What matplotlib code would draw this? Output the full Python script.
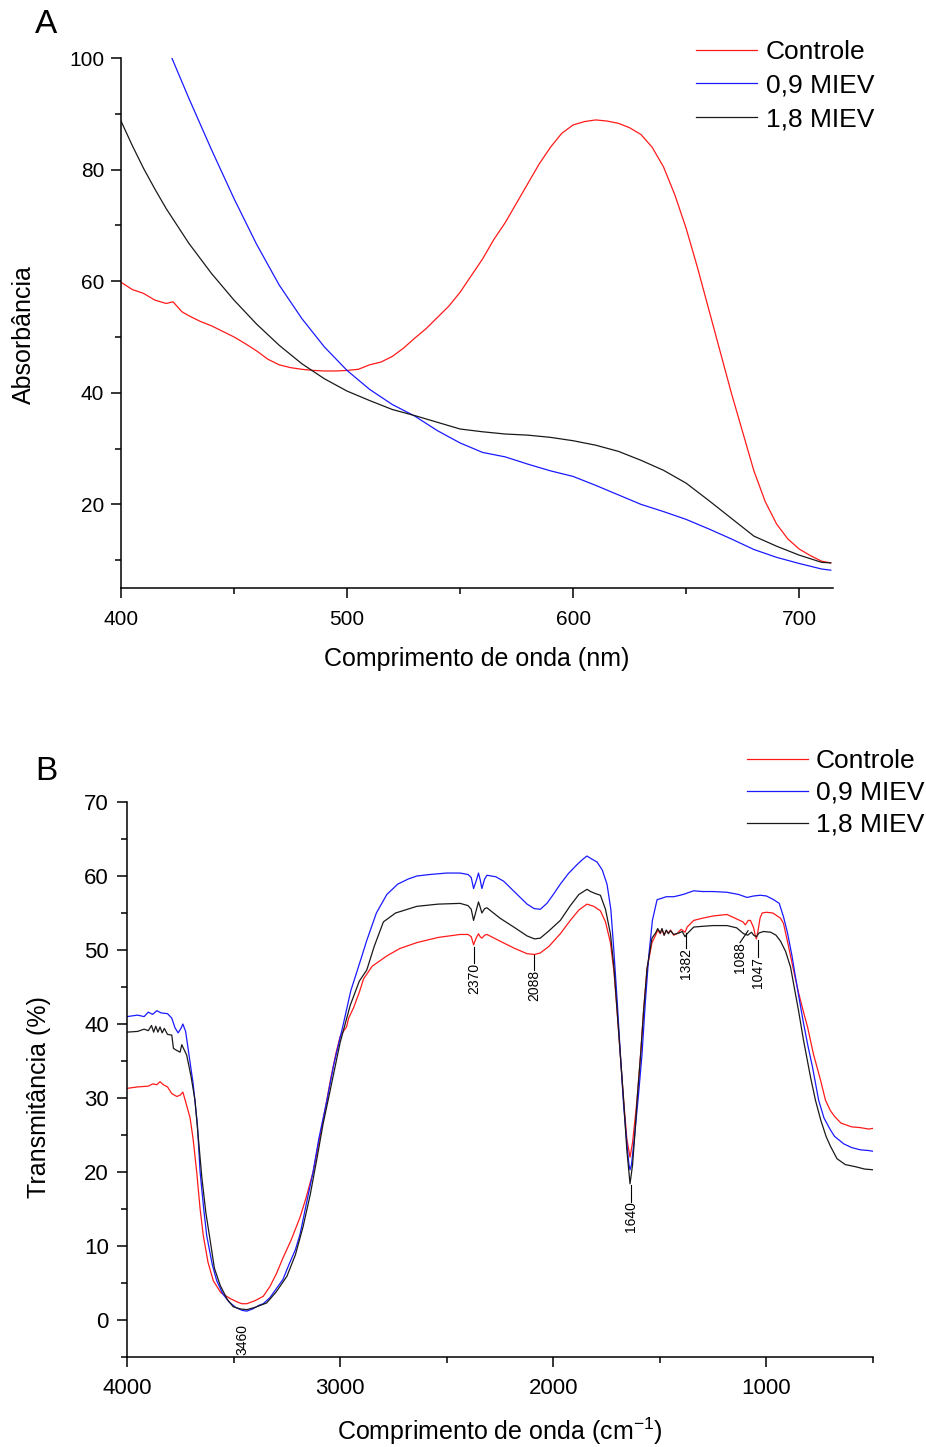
import matplotlib
matplotlib.use("Agg")
import matplotlib.pyplot as plt
from matplotlib.ticker import MultipleLocator

plt.rcParams['font.family'] = ['Liberation Sans', 'DejaVu Sans']
plt.rcParams['mathtext.fontset'] = 'custom'
plt.rcParams['mathtext.rm'] = 'Liberation Sans'
plt.rcParams['mathtext.it'] = 'Liberation Sans'

# ---- panel A: UV-Vis ----
wl_ctrl = [400, 405, 410, 415, 420, 423, 427, 430, 435, 440, 445, 450, 455, 460, 465,
           470, 475, 480, 485, 490, 495, 500, 505, 510, 515, 520, 525, 530, 535, 540,
           545, 550, 555, 560, 565, 570, 575, 580, 585, 590, 595, 600, 605, 610, 615,
           620, 625, 630, 635, 640, 645, 650, 655, 660, 665, 670, 675, 680, 685, 690,
           695, 700, 705, 710, 714]
abs_ctrl = [59.8, 58.5, 57.8, 56.6, 56.0, 56.3, 54.5, 53.8, 52.8, 52.0, 51.0, 50.0, 48.8, 47.5, 46.0,
            45.0, 44.5, 44.2, 44.0, 43.9, 43.9, 44.0, 44.2, 45.0, 45.5, 46.5, 48.0, 49.8, 51.5, 53.5,
            55.5, 58.0, 61.0, 64.0, 67.5, 70.5, 74.0, 77.5, 81.0, 84.0, 86.5, 88.0, 88.6, 88.9, 88.7,
            88.3, 87.5, 86.3, 84.0, 80.5, 75.5, 69.5, 62.5, 55.0, 47.5, 40.0, 33.0, 26.0, 20.5, 16.5,
            13.8, 12.0, 10.8, 9.8, 9.5]

wl_09 = [422.5, 430, 440, 450, 460, 470, 480, 490, 500, 510, 520, 530, 540, 550,
         560, 565, 570, 580, 590, 600, 610, 620, 630, 640, 650, 660, 670, 680, 690, 700,
         710, 714]
abs_09 = [100, 92.8, 83.6, 74.8, 66.6, 59.3, 53.3, 48.2, 44.0, 40.6, 37.9, 35.8, 33.2, 31.0,
          29.3, 28.9, 28.5, 27.2, 26.0, 25.0, 23.4, 21.7, 20.0, 18.7, 17.3, 15.6, 13.8, 11.9, 10.5, 9.4,
          8.4, 8.2]

wl_18 = [400, 405, 410, 415, 420, 430, 440, 450, 460, 470, 480, 490, 500, 510, 520, 530,
         540, 550, 560, 570, 580, 590, 600, 610, 620, 630, 640, 650, 660, 670, 680,
         690, 700, 710, 714]
abs_18 = [88.7, 84.3, 80.2, 76.5, 73.0, 66.8, 61.4, 56.6, 52.3, 48.5, 45.2, 42.5, 40.3, 38.6, 37.0, 35.9,
          34.7, 33.5, 33.0, 32.6, 32.4, 32.0, 31.4, 30.6, 29.5, 27.9, 26.1, 23.8, 20.7, 17.5, 14.3,
          12.5, 10.9, 9.6, 9.5]

# ---- panel B: FTIR ----
wn_ctrl = [4000, 3950, 3900, 3880, 3860, 3845, 3830, 3810, 3790, 3766, 3750, 3738, 3725, 3704, 3690,
           3673, 3657, 3642, 3620, 3595, 3560, 3516, 3480, 3460, 3438, 3400, 3361, 3330, 3300, 3268,
           3230, 3188, 3160, 3127, 3100, 3070, 3045, 3020, 3000, 2985, 2970, 2960, 2937, 2910, 2890, 2850,
           2781, 2720, 2640, 2540, 2437, 2400, 2385, 2374, 2362, 2351, 2343, 2335, 2322, 2311, 2250,
           2180, 2123, 2088, 2061, 2020, 1967, 1920, 1880, 1842, 1810, 1779, 1755, 1732, 1715, 1701,
           1685, 1670, 1655, 1640, 1628, 1615, 1607, 1590, 1576, 1560, 1537, 1520, 1510, 1498, 1490,
           1480, 1470, 1460, 1450, 1435, 1420, 1400, 1382, 1372, 1341, 1300, 1250, 1185, 1140, 1110,
           1099, 1085, 1075, 1060, 1052, 1047, 1040, 1030, 1020, 1000, 970, 934, 920, 900, 873,
           850, 825, 807, 780, 746, 723, 700, 680, 650, 600, 560, 520, 500]
tr_ctrl = [31.3, 31.5, 31.6, 31.9, 31.8, 32.2, 31.8, 31.5, 30.6, 30.2, 30.4, 30.8, 29.5, 27.3, 24.5,
           20.0, 15.0, 11.4, 7.8, 5.3, 3.7, 2.9, 2.4, 2.2, 2.2, 2.6, 3.2, 4.5, 6.2, 8.4,
           10.8, 13.9, 16.5, 20.0, 24.0, 28.5, 32.5, 36.0, 38.3, 39.0, 39.6, 40.8, 42.2, 44.3, 46.1, 47.8,
           49.2, 50.2, 51.0, 51.7, 52.1, 52.1, 51.8, 50.7, 51.6, 52.2, 51.8, 51.6, 52.0, 52.1, 51.2,
           50.2, 49.5, 49.4, 49.6, 50.5, 52.2, 54.0, 55.4, 56.2, 55.9, 55.3, 53.8, 51.0, 47.0, 41.9,
           35.5, 29.7, 24.5, 22.0, 24.0, 27.5, 29.7, 36.0, 41.9, 47.5, 51.0, 52.0, 52.7, 52.2, 52.8,
           52.0, 52.6, 52.3, 52.7, 52.0, 52.2, 52.8, 52.4, 53.1, 54.0, 54.3, 54.6, 54.8, 54.2, 53.8,
           53.4, 54.0, 54.0, 53.0, 51.9, 51.5, 52.5, 54.3, 55.0, 55.1, 55.0, 54.3, 53.6, 51.0, 47.3,
           44.3, 41.5, 39.6, 36.0, 32.4, 29.7, 28.3, 27.5, 26.6, 26.1, 26.0, 25.8, 25.9]

wn_09 = [4000, 3950, 3920, 3900, 3880, 3860, 3840, 3810, 3790, 3775, 3760, 3745, 3738, 3725, 3710,
         3690, 3670, 3657, 3640, 3626, 3600, 3579, 3550, 3520, 3490, 3460, 3438, 3410, 3380, 3361,
         3330, 3300, 3268, 3240, 3210, 3188, 3160, 3127, 3100, 3062, 3030, 2985, 2950, 2900, 2875,
         2830, 2781, 2730, 2680, 2640, 2580, 2500, 2437, 2400, 2385, 2374, 2360, 2351, 2343, 2335,
         2322, 2311, 2270, 2233, 2180, 2123, 2090, 2061, 2030, 2000, 1967, 1930, 1890, 1860, 1842,
         1820, 1795, 1770, 1748, 1730, 1717, 1700, 1685, 1670, 1654, 1645, 1640, 1633, 1620, 1600,
         1584, 1568, 1552, 1535, 1513, 1490, 1470, 1435, 1405, 1380, 1372, 1341, 1300, 1250, 1185,
         1130, 1091, 1060, 1028, 1000, 966, 940, 920, 901, 880, 864, 845, 826, 805, 784,
         755, 730, 700, 680, 637, 600, 560, 520, 500]
tr_09 = [41.0, 41.2, 41.0, 41.6, 41.3, 41.8, 41.5, 41.4, 40.8, 39.5, 38.8, 39.5, 40.0, 39.0, 36.0,
         32.0, 26.5, 20.0, 15.0, 11.4, 7.5, 5.3, 3.5, 2.4, 1.7, 1.3, 1.2, 1.5, 2.0, 2.2,
         3.0, 4.2, 5.5, 7.5, 9.5, 11.6, 15.5, 20.0, 24.5, 29.7, 34.5, 40.0, 44.5, 49.0, 51.3,
         55.0, 57.5, 58.9, 59.6, 60.0, 60.2, 60.4, 60.4, 60.2, 59.8, 58.3, 59.5, 60.4, 59.5, 58.3,
         59.6, 60.1, 59.9, 59.3, 57.8, 56.2, 55.6, 55.5, 56.3, 57.5, 58.9, 60.3, 61.5, 62.3, 62.7,
         62.3, 61.9, 60.8, 58.9, 55.5, 50.4, 43.0, 35.8, 29.0, 23.6, 21.0, 20.3, 21.0, 24.5, 30.5,
         35.8, 43.0, 49.2, 54.0, 56.8, 57.0, 57.2, 57.2, 57.4, 57.6, 57.7, 58.0, 57.9, 57.9, 57.8,
         57.5, 57.1, 57.3, 57.4, 57.3, 56.8, 56.3, 54.5, 52.3, 49.2, 46.4, 43.2, 40.1, 37.0, 34.2,
         29.7, 27.3, 25.7, 24.8, 23.8, 23.3, 23.0, 22.9, 22.8]

wn_18 = [4000, 3950, 3920, 3900, 3885, 3875, 3865, 3855, 3845, 3835, 3825, 3810, 3790, 3782, 3765,
         3751, 3743, 3720, 3700, 3681, 3665, 3649, 3630, 3610, 3590, 3563, 3530, 3502, 3470, 3438,
         3400, 3345, 3300, 3250, 3210, 3174, 3140, 3109, 3080, 3047, 3000, 2953, 2910, 2875, 2840,
         2797, 2740, 2640, 2540, 2437, 2400, 2385, 2374, 2362, 2351, 2343, 2335, 2322, 2311, 2250,
         2180, 2123, 2088, 2061, 2020, 1967, 1920, 1880, 1842, 1825, 1800, 1779, 1755, 1732, 1715,
         1701, 1685, 1670, 1655, 1640, 1628, 1615, 1607, 1590, 1576, 1560, 1537, 1520, 1510, 1498,
         1490, 1480, 1470, 1460, 1450, 1435, 1410, 1395, 1382, 1372, 1341, 1300, 1250, 1185, 1140,
         1107, 1088, 1070, 1060, 1047, 1035, 1013, 980, 955, 934, 910, 887, 870, 850, 826,
         793, 770, 745, 720, 700, 669, 630, 580, 540, 500]
tr_18 = [38.9, 39.0, 39.3, 39.1, 39.8, 38.9, 39.7, 38.9, 39.6, 38.8, 39.4, 38.6, 38.5, 36.7, 36.4,
         36.2, 37.2, 35.8, 33.0, 29.7, 24.5, 19.3, 14.5, 10.8, 7.0, 4.7, 2.8, 1.8, 1.5, 1.4,
         1.7, 2.3, 3.8, 5.9, 8.8, 12.6, 17.0, 21.8, 26.5, 31.0, 37.5, 42.5, 45.8, 47.3, 50.5,
         53.8, 55.0, 55.9, 56.2, 56.3, 56.0, 55.5, 54.0, 55.3, 56.5, 55.8, 55.0, 55.6, 55.7, 54.3,
         53.0, 51.9, 51.5, 51.6, 52.6, 54.0, 56.0, 57.5, 58.2, 57.9, 57.6, 57.4, 55.5, 52.2, 47.5,
         41.9, 35.5, 29.7, 23.0, 18.4, 21.0, 26.0, 29.7, 36.0, 41.9, 47.5, 51.6, 52.3, 52.9, 52.3,
         52.9, 52.0, 52.7, 52.2, 52.6, 52.1, 52.3, 52.5, 51.8, 52.2, 53.1, 53.2, 53.3, 53.3, 53.0,
         52.2, 52.0, 52.4, 52.0, 51.8, 52.3, 52.5, 52.4, 52.0, 51.2, 49.8, 47.7, 45.0, 41.9, 37.8,
         32.8, 29.7, 27.0, 24.8, 23.5, 21.8, 21.0, 20.7, 20.4, 20.3]

series_labels = ['Controle', '0,9 MIEV', '1,8 MIEV']
colors = ['#ff1a1a', '#1a1aff', '#1a1a1a']

# peak labels: (text, line x, line top y, line bottom x, line bottom y)
peaks = [('3460', 3460, None, 3460, -0.5),
         ('2370', 2371, 50.4, 2371, 48.2),
         ('2088', 2089, 49.3, 2089, 47.3),
         ('1640', 1634, 18.3, 1634, 16.0),
         ('1382', 1378, 52.3, 1378, 50.3),
         ('1088', 1086, 52.6, 1124, 51.0),
         ('1047', 1040, 51.4, 1040, 49.1)]

fig = plt.figure(figsize=(9.26, 14.47), dpi=100)


def style_axis(ax, tick_fs, xpad, ypad):
    for s in ['top', 'right']:
        ax.spines[s].set_visible(False)
    for s in ['left', 'bottom']:
        ax.spines[s].set_linewidth(1.1)
    ax.tick_params(which='major', direction='out', length=7, width=1.1, labelsize=tick_fs)
    ax.tick_params(which='minor', direction='out', length=4, width=1.1)
    ax.tick_params(axis='x', which='major', pad=xpad)
    ax.tick_params(axis='y', which='major', pad=ypad)


# panel A
axA = fig.add_axes([121 / 926, 1 - 588 / 1447, 712 / 926, 530 / 1447])
axA.plot(wl_ctrl, abs_ctrl, color=colors[0], lw=0.9, label=series_labels[0])
axA.plot(wl_09, abs_09, color=colors[1], lw=0.9, label=series_labels[1])
axA.plot(wl_18, abs_18, color=colors[2], lw=0.9, label=series_labels[2])
axA.set_xlim(400, 715)
axA.set_ylim(5, 100)
axA.xaxis.set_major_locator(MultipleLocator(100))
axA.xaxis.set_minor_locator(MultipleLocator(50))
axA.yaxis.set_major_locator(MultipleLocator(20))
axA.yaxis.set_minor_locator(MultipleLocator(10))
style_axis(axA, 15, 9, 5)
axA.set_xlabel('Comprimento de onda (nm)', fontsize=18, labelpad=13)
axA.set_ylabel('Absorbância', fontsize=18, labelpad=24)
axA.yaxis.label.set_y(0.479)
axA.legend(loc='upper left', bbox_to_anchor=(696 / 926, 1 - 40 / 1447),
           bbox_transform=fig.transFigure, frameon=False, fontsize=19,
           handlelength=2.3, handletextpad=0.35, labelspacing=0.36,
           borderpad=0, borderaxespad=0)
fig.text(35 / 926, 1 - 33 / 1447, 'A', fontsize=24)

# panel B
axB = fig.add_axes([127 / 926, 1 - 1357 / 1447, 746 / 926, 555 / 1447])
axB.plot(wn_ctrl, tr_ctrl, color=colors[0], lw=0.9, label=series_labels[0])
axB.plot(wn_09, tr_09, color=colors[1], lw=0.9, label=series_labels[1])
axB.plot(wn_18, tr_18, color=colors[2], lw=0.9, label=series_labels[2])
axB.set_xlim(4000, 500)
axB.set_ylim(-5, 70)
axB.xaxis.set_major_locator(MultipleLocator(1000))
axB.xaxis.set_minor_locator(MultipleLocator(500))
axB.yaxis.set_major_locator(MultipleLocator(10))
axB.yaxis.set_minor_locator(MultipleLocator(5))
style_axis(axB, 16, 8, 6)
axB.set_xlabel('Comprimento de onda (cm$^{-1}$)', fontsize=18, labelpad=12)
axB.set_ylabel('Transmitância (%)', fontsize=18, labelpad=24)
axB.yaxis.label.set_y(0.468)
axB.legend(loc='upper left', bbox_to_anchor=(747 / 926, 1 - 749 / 1447),
           bbox_transform=fig.transFigure, frameon=False, fontsize=19,
           handlelength=2.3, handletextpad=0.3, labelspacing=0.3,
           borderpad=0, borderaxespad=0)
fig.text(35 / 926, 1 - 780 / 1447, 'B', fontsize=24)

for txt, x1, y1, x2, y2 in peaks:
    if y1 is not None:
        axB.plot([x1, x2], [y1, y2], color='black', lw=0.8)
    axB.text(x2, y2, txt, rotation=90, ha='center', va='top', fontsize=10)

fig.savefig('out.png', dpi=100)
